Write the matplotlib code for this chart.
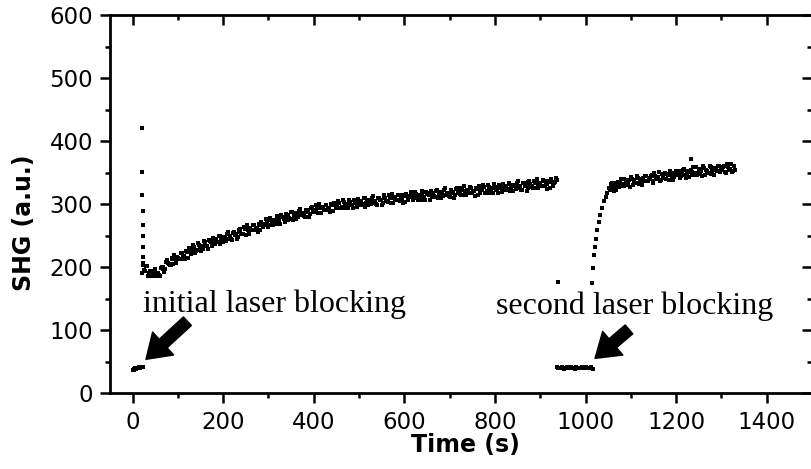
import matplotlib.pyplot as plt
from matplotlib.ticker import MultipleLocator

# first laser blocking (signal while blocked)
block1_t = [0, 2, 4, 6, 8, 10, 12, 14, 16, 18, 20, 22]
block1_y = [37, 38, 37, 39, 38, 40, 39, 41, 40, 42, 41, 42]

# sharp drop right after unblocking
spike_t = [20, 21, 21, 22, 22, 22, 23, 23, 23, 21]
spike_y = [420, 351, 314, 289, 267, 249, 232, 216, 207, 190]

# first recovery (even readings)
rec1_t = [24, 28, 32, 36, 40, 44, 48, 52, 56, 60,
          64, 68, 72, 76, 80, 84, 88, 92, 96, 100,
          104, 108, 112, 116, 120, 124, 128, 132, 136, 140,
          144, 148, 152, 156, 160, 164, 168, 172, 176, 180,
          184, 188, 192, 196, 200, 204, 208, 212, 216, 220,
          224, 228, 232, 236, 240, 244, 248, 252, 256, 260,
          264, 268, 272, 276, 280, 284, 288, 292, 296, 300,
          304, 308, 312, 316, 320, 324, 328, 332, 336, 340,
          344, 348, 352, 356, 360, 364, 368, 372, 376, 380,
          384, 388, 392, 396, 400, 404, 408, 412, 416, 420,
          424, 428, 432, 436, 440, 444, 448, 452, 456, 460,
          464, 468, 472, 476, 480, 484, 488, 492, 496, 500,
          504, 508, 512, 516, 520, 524, 528, 532, 536, 540,
          544, 548, 552, 556, 560, 564, 568, 572, 576, 580,
          584, 588, 592, 596, 600, 604, 608, 612, 616, 620,
          624, 628, 632, 636, 640, 644, 648, 652, 656, 660,
          664, 668, 672, 676, 680, 684, 688, 692, 696, 700,
          704, 708, 712, 716, 720, 724, 728, 732, 736, 740,
          744, 748, 752, 756, 760, 764, 768, 772, 776, 780,
          784, 788, 792, 796, 800, 804, 808, 812, 816, 820,
          824, 828, 832, 836, 840, 844, 848, 852, 856, 860,
          864, 868, 872, 876, 880, 884, 888, 892, 896, 900,
          904, 908, 912, 916, 920, 924, 928, 932, 936]
rec1_y = [203, 193, 201, 191, 185, 192, 194, 186, 191, 186,
          200, 200, 197, 211, 204, 203, 212, 219, 206, 214,
          213, 222, 218, 212, 224, 230, 221, 228, 232, 225,
          238, 230, 233, 229, 239, 234, 243, 241, 233, 242,
          245, 239, 250, 243, 239, 248, 252, 245, 249, 243,
          255, 253, 248, 261, 253, 252, 260, 266, 253, 260,
          258, 267, 262, 256, 267, 272, 263, 269, 273, 265,
          278, 270, 273, 268, 278, 273, 282, 279, 271, 280,
          283, 277, 287, 281, 277, 286, 289, 282, 286, 279,
          291, 289, 284, 296, 288, 287, 294, 300, 286, 293,
          290, 299, 293, 287, 298, 302, 293, 298, 302, 293,
          306, 297, 299, 294, 303, 298, 306, 303, 295, 303,
          305, 299, 309, 302, 298, 306, 309, 302, 305, 298,
          310, 307, 301, 314, 305, 303, 310, 316, 302, 308,
          306, 314, 308, 302, 312, 316, 307, 312, 315, 307,
          319, 310, 313, 307, 316, 311, 319, 316, 307, 316,
          318, 311, 322, 315, 310, 319, 322, 314, 318, 311,
          322, 319, 314, 326, 317, 315, 323, 328, 314, 320,
          318, 326, 320, 313, 324, 328, 318, 323, 327, 318,
          330, 322, 324, 318, 327, 322, 330, 327, 319, 327,
          329, 322, 333, 326, 321, 330, 333, 325, 328, 322,
          333, 330, 325, 337, 328, 326, 334, 339, 325, 331,
          329, 337, 331, 324, 335, 339, 329, 335, 338]

# first recovery (odd readings)
rec1b_t = [26, 30, 34, 38, 42, 46, 50, 54, 58, 62,
           66, 70, 74, 78, 82, 86, 90, 94, 98, 102,
           106, 110, 114, 118, 122, 126, 130, 134, 138, 142,
           146, 150, 154, 158, 162, 166, 170, 174, 178, 182,
           186, 190, 194, 198, 202, 206, 210, 214, 218, 222,
           226, 230, 234, 238, 242, 246, 250, 254, 258, 262,
           266, 270, 274, 278, 282, 286, 290, 294, 298, 302,
           306, 310, 314, 318, 322, 326, 330, 334, 338, 342,
           346, 350, 354, 358, 362, 366, 370, 374, 378, 382,
           386, 390, 394, 398, 402, 406, 410, 414, 418, 422,
           426, 430, 434, 438, 442, 446, 450, 454, 458, 462,
           466, 470, 474, 478, 482, 486, 490, 494, 498, 502,
           506, 510, 514, 518, 522, 526, 530, 534, 538, 542,
           546, 550, 554, 558, 562, 566, 570, 574, 578, 582,
           586, 590, 594, 598, 602, 606, 610, 614, 618, 622,
           626, 630, 634, 638, 642, 646, 650, 654, 658, 662,
           666, 670, 674, 678, 682, 686, 690, 694, 698, 702,
           706, 710, 714, 718, 722, 726, 730, 734, 738, 742,
           746, 750, 754, 758, 762, 766, 770, 774, 778, 782,
           786, 790, 794, 798, 802, 806, 810, 814, 818, 822,
           826, 830, 834, 838, 842, 846, 850, 854, 858, 862,
           866, 870, 874, 878, 882, 886, 890, 894, 898, 902,
           906, 910, 914, 918, 922, 926, 930, 934]
rec1b_y = [196, 202, 186, 194, 191, 185, 197, 189, 187, 198,
           197, 192, 208, 207, 203, 215, 204, 212, 216, 213,
           222, 213, 218, 225, 215, 226, 225, 235, 223, 227,
           235, 226, 234, 242, 234, 229, 241, 239, 246, 237,
           240, 249, 237, 247, 246, 242, 255, 247, 244, 254,
           251, 244, 258, 256, 252, 263, 251, 259, 262, 258,
           267, 258, 262, 269, 258, 268, 267, 276, 264, 267,
           275, 266, 274, 281, 273, 268, 280, 277, 284, 275,
           278, 287, 274, 285, 284, 280, 292, 284, 281, 290,
           287, 280, 294, 291, 287, 298, 285, 293, 295, 291,
           299, 290, 293, 300, 289, 298, 297, 305, 293, 295,
           303, 293, 300, 307, 298, 293, 304, 301, 308, 298,
           300, 309, 296, 306, 305, 300, 312, 304, 300, 309,
           306, 298, 311, 309, 304, 314, 301, 309, 311, 306,
           315, 305, 308, 315, 303, 312, 311, 319, 306, 309,
           316, 306, 314, 320, 311, 306, 317, 314, 320, 311,
           313, 321, 309, 319, 317, 313, 325, 316, 313, 322,
           318, 310, 324, 321, 316, 326, 314, 321, 323, 318,
           327, 317, 320, 326, 315, 324, 322, 330, 318, 320,
           327, 318, 325, 331, 322, 317, 328, 325, 332, 322,
           324, 332, 320, 330, 328, 324, 336, 327, 323, 333,
           329, 321, 335, 332, 327, 337, 325, 332, 334, 329,
           338, 328, 331, 337, 326, 335, 333, 342]

# stray point just before second blocking
stray_t = [939]
stray_y = [177]

# second laser blocking
block2_t = [936, 940, 944, 948, 952, 956, 960, 964, 968, 972, 976,
            980, 984, 988, 992, 996, 1000, 1004, 1008, 1012, 1016]
block2_y = [41, 39, 40, 42, 38, 40, 41, 39, 42, 40, 38,
            41, 40, 39, 42, 40, 41, 39, 40, 41, 38]

# second recovery (even readings)
rec2_t = [1015, 1016, 1018, 1020, 1023, 1026, 1029, 1033, 1037, 1041, 1045, 1048,
          1052, 1056, 1060, 1064, 1068, 1072, 1076, 1080, 1084, 1088,
          1092, 1096, 1100, 1104, 1108, 1112, 1116, 1120, 1124, 1128,
          1132, 1136, 1140, 1144, 1148, 1152, 1156, 1160, 1164, 1168,
          1172, 1176, 1180, 1184, 1188, 1192, 1196, 1200, 1204, 1208,
          1212, 1216, 1220, 1224, 1228, 1232, 1236, 1240, 1244, 1248,
          1252, 1256, 1260, 1264, 1268, 1272, 1276, 1280, 1284, 1288,
          1292, 1296, 1300, 1304, 1308, 1312, 1316, 1320, 1324, 1328, 1232]
rec2_y = [174, 198, 219, 232, 245, 259, 272, 283, 293, 304, 311, 317,
          325, 331, 325, 329, 323, 335, 333, 328, 340, 332,
          330, 338, 343, 330, 336, 334, 342, 337, 330, 341,
          345, 336, 341, 345, 336, 349, 340, 343, 337, 347,
          341, 350, 347, 338, 347, 349, 343, 353, 346, 342,
          350, 354, 346, 349, 343, 354, 351, 346, 358, 349,
          348, 355, 360, 346, 353, 350, 358, 352, 346, 356,
          360, 351, 356, 359, 351, 363, 354, 356, 351, 360, 371]

# second recovery (odd readings)
rec2b_t = [1054, 1058, 1062, 1066, 1070, 1074, 1078, 1082, 1086, 1090,
           1094, 1098, 1102, 1106, 1110, 1114, 1118, 1122, 1126, 1130,
           1134, 1138, 1142, 1146, 1150, 1154, 1158, 1162, 1166, 1170,
           1174, 1178, 1182, 1186, 1190, 1194, 1198, 1202, 1206, 1210,
           1214, 1218, 1222, 1226, 1230, 1234, 1238, 1242, 1246, 1250,
           1254, 1258, 1262, 1266, 1270, 1274, 1278, 1282, 1286, 1290,
           1294, 1298, 1302, 1306, 1310, 1314, 1318, 1322, 1326, 1330]
rec2b_y = [323, 333, 321, 333, 332, 327, 340, 332, 328, 338,
           334, 327, 340, 338, 333, 344, 331, 339, 341, 337,
           345, 336, 339, 346, 334, 344, 342, 351, 338, 341,
           348, 339, 346, 352, 344, 338, 350, 347, 353, 344,
           346, 355, 342, 352, 351, 346, 358, 350, 346, 355,
           352, 344, 357, 354, 350, 360, 347, 354, 357, 352,
           360, 351, 354, 360, 349, 358, 356, 364, 352, 354]

plt.rcParams['font.family'] = 'DejaVu Sans'

fig = plt.figure(figsize=(8.11, 4.69), dpi=100)
# right spine sits just past the image edge, as in the original
ax = fig.add_axes([0.1356, 0.162, 0.8656, 0.806])

for t, y in [(block1_t, block1_y), (spike_t, spike_y), (rec1_t, rec1_y),
             (rec1b_t, rec1b_y), (stray_t, stray_y), (block2_t, block2_y),
             (rec2_t, rec2_y), (rec2b_t, rec2b_y)]:
    ax.plot(t, y, 's', color='black', ms=3.2, mew=0)

ax.set_xlim(-50, 1500)
ax.set_ylim(0, 600)
ax.xaxis.set_major_locator(MultipleLocator(200))
ax.xaxis.set_minor_locator(MultipleLocator(100))
ax.yaxis.set_major_locator(MultipleLocator(100))
ax.yaxis.set_minor_locator(MultipleLocator(50))
ax.set_xticks([0, 200, 400, 600, 800, 1000, 1200, 1400])

for s in ax.spines.values():
    s.set_linewidth(2)

ax.tick_params(which='both', width=1.8, labelsize=16.5)
ax.tick_params(which='major', length=7)
ax.tick_params(which='minor', length=3.6)
ax.tick_params(axis='x', which='both', direction='out', top=True, pad=6)
ax.tick_params(axis='y', which='both', direction='out', right=True, pad=5)
# mirrored ticks on top/right point inward
for tk in ax.xaxis.get_major_ticks() + ax.xaxis.get_minor_ticks():
    tk.tick2line.set_marker(3)
for tk in ax.yaxis.get_major_ticks() + ax.yaxis.get_minor_ticks():
    tk.tick2line.set_marker(0)

ax.set_xlabel('Time (s)', fontsize=17, fontweight='bold')
ax.set_ylabel('SHG (a.u.)', fontsize=17, fontweight='bold')
ax.xaxis.set_label_coords(0.506, -0.105)
ax.yaxis.set_label_coords(-0.105, 0.45)

ax.text(22, 129, 'initial laser blocking', fontsize=23,
        family='Liberation Serif', ha='left', va='baseline')
ax.text(802, 126, 'second laser blocking', fontsize=23,
        family='Liberation Serif', ha='left', va='baseline')

arrow = dict(arrowstyle='simple,head_length=1.2,head_width=1.6,tail_width=0.6',
             fc='black', ec='black', mutation_scale=14, shrinkA=0, shrinkB=0)
ax.annotate('', xy=(29.5, 53.5), xytext=(121, 114), arrowprops=arrow)
ax.annotate('', xy=(1021, 55), xytext=(1096, 101), arrowprops=arrow)

fig.savefig('out.png', dpi=100)
